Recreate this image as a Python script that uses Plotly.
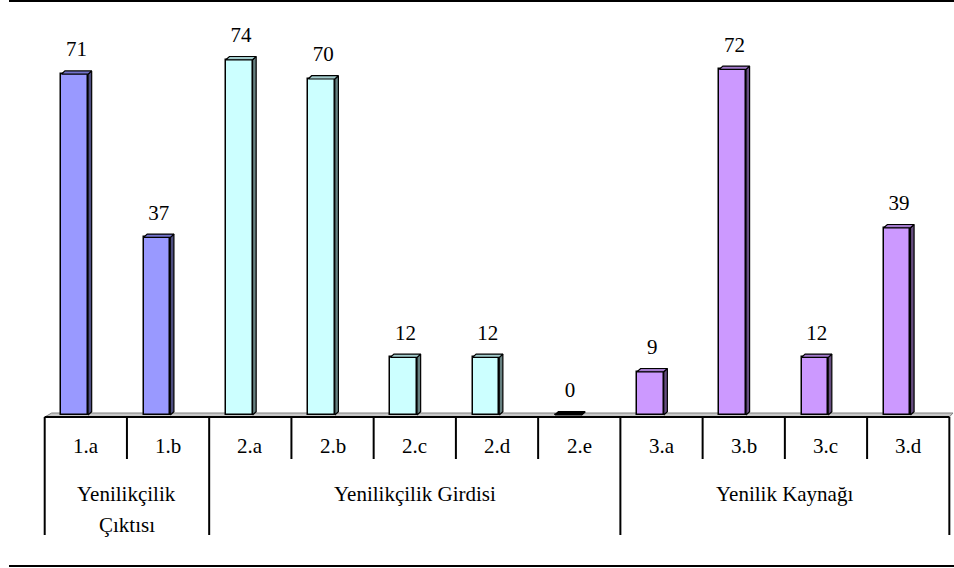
import plotly.graph_objects as go

# ---------------- data ----------------
categories = ["1.a", "1.b", "2.a", "2.b", "2.c", "2.d", "2.e", "3.a", "3.b", "3.c", "3.d"]
values = [71, 37, 74, 70, 12, 12, 0, 9, 72, 12, 39]
group_labels = ["Yenilikçilik<br>Çıktısı", "Yenilikçilik Girdisi", "Yenilik Kaynağı"]
group_sizes = [2, 5, 4]

# ---------------- styling ----------------
W, H = 954, 568
X0 = 44.7          # left edge of the category table (px)
COLW = 82.24       # column width (px)
FLOOR = 415.0      # y pixel of value 0
PXU = 4.8          # pixels per unit

front_cols = ["#9999FF", "#CCFFFF", "#CC99FF"]
top_cols = ["#7373CC", "#A3CCCC", "#A37ACC"]
side_cols = ["#4D4D80", "#668080", "#664D80"]

BAR_OFF = -0.135   # front face offset from column centre (category units)
BAR_W = 0.325      # front face width (category units)
DX = 3.6 / COLW    # depth offset x (category units)
DY = 3.3 / PXU     # depth offset y (value units)

FONT = "Liberation Serif, Times New Roman, serif"
FS = 21

def px_x(p):
    return p / W

def px_y(p):
    return 1 - p / H

grp_idx = []
for g, n in enumerate(group_sizes):
    grp_idx += [g] * n

fig = go.Figure()

xs = [i + BAR_OFF for i in range(len(categories))]

# front faces
fig.add_trace(go.Bar(
    x=xs, y=values, width=BAR_W,
    marker=dict(color=[front_cols[g] for g in grp_idx], line=dict(color="black", width=1.5)),
    hoverinfo="skip", showlegend=False,
))

# side and top faces (computed from the values)
for i, v in enumerate(values):
    g = grp_idx[i]
    xl = xs[i] - BAR_W / 2
    xr = xs[i] + BAR_W / 2
    fig.add_trace(go.Scatter(
        x=[xr, xr + DX, xr + DX, xr, xr], y=[0, DY, v + DY, v, 0],
        mode="lines", fill="toself", fillcolor=side_cols[g],
        line=dict(color="black", width=1.2), hoverinfo="skip", showlegend=False,
    ))
    fig.add_trace(go.Scatter(
        x=[xl, xl + DX, xr + DX, xr, xl], y=[v, v + DY, v + DY, v, v],
        mode="lines", fill="toself", fillcolor=top_cols[g] if v > 0 else "black",
        line=dict(color="black", width=1.2), hoverinfo="skip", showlegend=False,
    ))

# value labels
fig.add_trace(go.Scatter(
    x=[x + DX / 2 for x in xs], y=[v + 23 / PXU for v in values],
    mode="text", text=[str(v) for v in values], textposition="middle center",
    textfont=dict(family=FONT, size=FS, color="black"),
    hoverinfo="skip", showlegend=False,
))

shapes = []
# floor plate
shapes.append(dict(type="path", xref="paper", yref="paper", layer="below",
                   path=f"M {px_x(X0)} {px_y(417)} L {px_x(X0 + 7)} {px_y(413)} "
                        f"L {px_x(953)} {px_y(413)} L {px_x(X0 + 11 * COLW)} {px_y(417)} Z",
                   fillcolor="#C8C8C8", line=dict(color="#808080", width=1)))
TABLE_TOP = 417
SUB_BOTTOM = 459
TABLE_BOTTOM = 535
shapes.append(dict(type="line", xref="paper", yref="paper",
                   x0=px_x(X0), x1=px_x(X0 + 11 * COLW), y0=px_y(TABLE_TOP), y1=px_y(TABLE_TOP),
                   line=dict(color="black", width=2)))
# vertical dividers
group_edges = [0]
for n in group_sizes:
    group_edges.append(group_edges[-1] + n)
for k in range(len(categories) + 1):
    bottom = TABLE_BOTTOM if k in group_edges else SUB_BOTTOM
    xp = X0 + k * COLW
    shapes.append(dict(type="line", xref="paper", yref="paper",
                       x0=px_x(xp), x1=px_x(xp), y0=px_y(TABLE_TOP), y1=px_y(bottom),
                       line=dict(color="black", width=2)))
# top and bottom rules
shapes.append(dict(type="line", xref="paper", yref="paper",
                   x0=px_x(9), x1=1, y0=px_y(1), y1=px_y(1), line=dict(color="black", width=2)))
shapes.append(dict(type="line", xref="paper", yref="paper",
                   x0=px_x(9), x1=1, y0=px_y(566), y1=px_y(566), line=dict(color="black", width=2)))

annotations = []
for i, c in enumerate(categories):
    annotations.append(dict(xref="paper", yref="paper", x=px_x(X0 + (i + 0.5) * COLW), y=px_y(446),
                            text=c, showarrow=False, xanchor="center", yanchor="middle",
                            font=dict(family=FONT, size=FS, color="black")))
for g, lab in enumerate(group_labels):
    cx = X0 + (group_edges[g] + group_edges[g + 1]) / 2 * COLW
    for j, line in enumerate(lab.split("<br>")):
        annotations.append(dict(xref="paper", yref="paper", x=px_x(cx), y=px_y(494 + 31 * j),
                                text=line, showarrow=False, xanchor="center", yanchor="middle",
                                font=dict(family=FONT, size=FS, color="black")))

fig.update_layout(
    width=W, height=H, margin=dict(l=0, r=0, t=0, b=0),
    paper_bgcolor="white", plot_bgcolor="white",
    xaxis=dict(visible=False, range=[-0.5 - X0 / COLW, -0.5 + (W - X0) / COLW], fixedrange=True),
    yaxis=dict(visible=False, range=[(FLOOR - H) / PXU, FLOOR / PXU], fixedrange=True),
    shapes=shapes, annotations=annotations, bargap=0,
)

fig.write_html("out.html")
